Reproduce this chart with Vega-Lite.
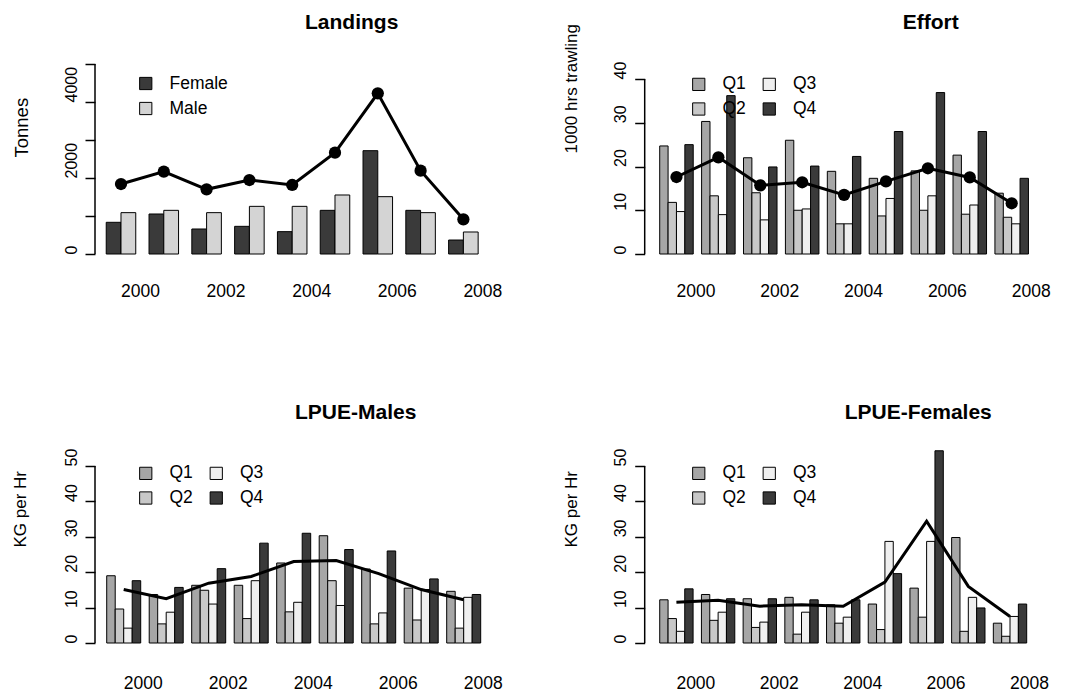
{
  "$schema": "https://vega.github.io/schema/vega-lite/v6.json",
  "background": "white",
  "padding": {"left": 11, "top": 11, "right": 0, "bottom": 0},
  "config": {
    "font": "Liberation Sans",
    "view": {"stroke": null},
    "axis": {"grid": false, "labelColor": "black", "titleColor": "black", "tickColor": "black", "labelOverlap": false, "labelSeparation": 0},
    "legend": {"labelColor": "black"},
    "title": {"color": "black"}
  },
  "datasets": {
    "land_bars": [
      {"year": 2000, "g": "Female", "v": 834}, {"year": 2000, "g": "Male", "v": 1088},
      {"year": 2001, "g": "Female", "v": 1053}, {"year": 2001, "g": "Male", "v": 1149},
      {"year": 2002, "g": "Female", "v": 658}, {"year": 2002, "g": "Male", "v": 1088},
      {"year": 2003, "g": "Female", "v": 728}, {"year": 2003, "g": "Male", "v": 1254},
      {"year": 2004, "g": "Female", "v": 588}, {"year": 2004, "g": "Male", "v": 1254},
      {"year": 2005, "g": "Female", "v": 1149}, {"year": 2005, "g": "Male", "v": 1553},
      {"year": 2006, "g": "Female", "v": 2719}, {"year": 2006, "g": "Male", "v": 1509},
      {"year": 2007, "g": "Female", "v": 1149}, {"year": 2007, "g": "Male", "v": 1088},
      {"year": 2008, "g": "Female", "v": 368}, {"year": 2008, "g": "Male", "v": 579}
    ],
    "land_total": [
      {"year": 2000, "v": 1842}, {"year": 2001, "v": 2167}, {"year": 2002, "v": 1702},
      {"year": 2003, "v": 1947}, {"year": 2004, "v": 1816}, {"year": 2005, "v": 2667},
      {"year": 2006, "v": 4228}, {"year": 2007, "v": 2193}, {"year": 2008, "v": 912}
    ],
    "eff_bars": [
      {"year": 2000, "g": "Q1", "v": 24.7}, {"year": 2000, "g": "Q2", "v": 11.8}, {"year": 2000, "g": "Q3", "v": 9.7}, {"year": 2000, "g": "Q4", "v": 25.0},
      {"year": 2001, "g": "Q1", "v": 30.3}, {"year": 2001, "g": "Q2", "v": 13.3}, {"year": 2001, "g": "Q3", "v": 9.0}, {"year": 2001, "g": "Q4", "v": 36.2},
      {"year": 2002, "g": "Q1", "v": 22.0}, {"year": 2002, "g": "Q2", "v": 14.0}, {"year": 2002, "g": "Q3", "v": 7.8}, {"year": 2002, "g": "Q4", "v": 19.9},
      {"year": 2003, "g": "Q1", "v": 26.0}, {"year": 2003, "g": "Q2", "v": 10.0}, {"year": 2003, "g": "Q3", "v": 10.3}, {"year": 2003, "g": "Q4", "v": 20.1},
      {"year": 2004, "g": "Q1", "v": 18.9}, {"year": 2004, "g": "Q2", "v": 6.9}, {"year": 2004, "g": "Q3", "v": 6.9}, {"year": 2004, "g": "Q4", "v": 22.3},
      {"year": 2005, "g": "Q1", "v": 17.3}, {"year": 2005, "g": "Q2", "v": 8.7}, {"year": 2005, "g": "Q3", "v": 12.7}, {"year": 2005, "g": "Q4", "v": 28.0},
      {"year": 2006, "g": "Q1", "v": 19.0}, {"year": 2006, "g": "Q2", "v": 10.0}, {"year": 2006, "g": "Q3", "v": 13.3}, {"year": 2006, "g": "Q4", "v": 36.9},
      {"year": 2007, "g": "Q1", "v": 22.6}, {"year": 2007, "g": "Q2", "v": 9.1}, {"year": 2007, "g": "Q3", "v": 11.2}, {"year": 2007, "g": "Q4", "v": 28.0},
      {"year": 2008, "g": "Q1", "v": 13.9}, {"year": 2008, "g": "Q2", "v": 8.4}, {"year": 2008, "g": "Q3", "v": 6.9}, {"year": 2008, "g": "Q4", "v": 17.3}
    ],
    "eff_total": [
      {"year": 2000, "v": 17.6}, {"year": 2001, "v": 22.1}, {"year": 2002, "v": 15.7},
      {"year": 2003, "v": 16.4}, {"year": 2004, "v": 13.5}, {"year": 2005, "v": 16.6},
      {"year": 2006, "v": 19.6}, {"year": 2007, "v": 17.5}, {"year": 2008, "v": 11.6}
    ],
    "lm_bars": [
      {"year": 2000, "g": "Q1", "v": 19.0}, {"year": 2000, "g": "Q2", "v": 9.6}, {"year": 2000, "g": "Q3", "v": 4.2}, {"year": 2000, "g": "Q4", "v": 17.6},
      {"year": 2001, "g": "Q1", "v": 13.7}, {"year": 2001, "g": "Q2", "v": 5.4}, {"year": 2001, "g": "Q3", "v": 8.7}, {"year": 2001, "g": "Q4", "v": 15.7},
      {"year": 2002, "g": "Q1", "v": 16.3}, {"year": 2002, "g": "Q2", "v": 14.9}, {"year": 2002, "g": "Q3", "v": 11.0}, {"year": 2002, "g": "Q4", "v": 21.0},
      {"year": 2003, "g": "Q1", "v": 16.3}, {"year": 2003, "g": "Q2", "v": 6.9}, {"year": 2003, "g": "Q3", "v": 17.6}, {"year": 2003, "g": "Q4", "v": 28.2},
      {"year": 2004, "g": "Q1", "v": 22.6}, {"year": 2004, "g": "Q2", "v": 8.8}, {"year": 2004, "g": "Q3", "v": 11.5}, {"year": 2004, "g": "Q4", "v": 31.0},
      {"year": 2005, "g": "Q1", "v": 30.3}, {"year": 2005, "g": "Q2", "v": 17.6}, {"year": 2005, "g": "Q3", "v": 10.6}, {"year": 2005, "g": "Q4", "v": 26.4},
      {"year": 2006, "g": "Q1", "v": 20.9}, {"year": 2006, "g": "Q2", "v": 5.4}, {"year": 2006, "g": "Q3", "v": 8.5}, {"year": 2006, "g": "Q4", "v": 26.0},
      {"year": 2007, "g": "Q1", "v": 15.5}, {"year": 2007, "g": "Q2", "v": 6.5}, {"year": 2007, "g": "Q3", "v": 15.1}, {"year": 2007, "g": "Q4", "v": 18.1},
      {"year": 2008, "g": "Q1", "v": 14.6}, {"year": 2008, "g": "Q2", "v": 4.2}, {"year": 2008, "g": "Q3", "v": 12.9}, {"year": 2008, "g": "Q4", "v": 13.7}
    ],
    "lm_total": [
      {"year": 2000, "v": 15.1}, {"year": 2001, "v": 12.5}, {"year": 2002, "v": 16.9},
      {"year": 2003, "v": 18.8}, {"year": 2004, "v": 23.0}, {"year": 2005, "v": 23.3},
      {"year": 2006, "v": 19.6}, {"year": 2007, "v": 15.1}, {"year": 2008, "v": 12.2}
    ],
    "lf_bars": [
      {"year": 2000, "g": "Q1", "v": 12.2}, {"year": 2000, "g": "Q2", "v": 6.9}, {"year": 2000, "g": "Q3", "v": 3.3}, {"year": 2000, "g": "Q4", "v": 15.3},
      {"year": 2001, "g": "Q1", "v": 13.7}, {"year": 2001, "g": "Q2", "v": 6.4}, {"year": 2001, "g": "Q3", "v": 8.7}, {"year": 2001, "g": "Q4", "v": 12.5},
      {"year": 2002, "g": "Q1", "v": 12.5}, {"year": 2002, "g": "Q2", "v": 4.4}, {"year": 2002, "g": "Q3", "v": 5.9}, {"year": 2002, "g": "Q4", "v": 12.5},
      {"year": 2003, "g": "Q1", "v": 12.9}, {"year": 2003, "g": "Q2", "v": 2.5}, {"year": 2003, "g": "Q3", "v": 8.7}, {"year": 2003, "g": "Q4", "v": 12.2},
      {"year": 2004, "g": "Q1", "v": 10.8}, {"year": 2004, "g": "Q2", "v": 5.6}, {"year": 2004, "g": "Q3", "v": 7.3}, {"year": 2004, "g": "Q4", "v": 12.2},
      {"year": 2005, "g": "Q1", "v": 11.0}, {"year": 2005, "g": "Q2", "v": 3.8}, {"year": 2005, "g": "Q3", "v": 28.7}, {"year": 2005, "g": "Q4", "v": 19.6},
      {"year": 2006, "g": "Q1", "v": 15.5}, {"year": 2006, "g": "Q2", "v": 7.3}, {"year": 2006, "g": "Q3", "v": 28.7}, {"year": 2006, "g": "Q4", "v": 54.3},
      {"year": 2007, "g": "Q1", "v": 29.8}, {"year": 2007, "g": "Q2", "v": 3.3}, {"year": 2007, "g": "Q3", "v": 12.9}, {"year": 2007, "g": "Q4", "v": 9.9},
      {"year": 2008, "g": "Q1", "v": 5.6}, {"year": 2008, "g": "Q2", "v": 1.9}, {"year": 2008, "g": "Q3", "v": 7.5}, {"year": 2008, "g": "Q4", "v": 11.0}
    ],
    "lf_total": [
      {"year": 2000, "v": 11.5}, {"year": 2001, "v": 12.1}, {"year": 2002, "v": 10.4},
      {"year": 2003, "v": 10.8}, {"year": 2004, "v": 10.4}, {"year": 2005, "v": 17.2},
      {"year": 2006, "v": 34.4}, {"year": 2007, "v": 16.0}, {"year": 2008, "v": 7.5}
    ],
    "one": [{"k": 1}]
  },
  "bounds": "flush",
  "columns": 2,
  "spacing": {"row": 199, "column": 149.7},
  "resolve": {"scale": {"color": "independent", "xOffset": "independent"}, "legend": {"color": "independent"}},
  "concat": [
    {
      "width": 400, "height": 190,
      "title": {"text": "Landings", "fontSize": 21, "fontWeight": "bold", "anchor": "start", "frame": "group", "dx": 210, "baseline": "alphabetic", "offset": 13},
      "resolve": {"scale": {"x": "independent"}},
      "layer": [
        {
          "layer": [
            {
              "data": {"name": "land_bars"},
              "mark": {"type": "bar", "stroke": "black", "strokeWidth": 1},
              "encoding": {
                "x": {"field": "year", "type": "ordinal", "scale": {"paddingInner": 0.31, "paddingOuter": 0.328, "align": 0.4, "round": false},
                  "axis": {"values": [2000, 2002, 2004, 2006, 2008], "domain": false, "ticks": false, "tickSize": 0, "labelAngle": 0, "labelAlign": "left", "labelBaseline": "alphabetic", "labelPadding": 42.7, "labelFontSize": 17.5, "labelOverlap": false, "labelBound": false, "title": null}},
                "xOffset": {"field": "g", "scale": {"paddingInner": 0, "paddingOuter": 0}},
                "y": {"field": "v", "type": "quantitative", "scale": {"domain": [0, 5000], "nice": false},
                  "axis": {"values": [0, 1000, 2000, 3000, 4000, 5000], "tickCount": 20, "labelExpr": "datum.value % 2000 === 0 ? format(datum.value, 'd') : ''", "domain": false, "tickSize": 10, "tickWidth": 1.5, "labelAngle": 270, "labelAlign": "left", "labelBaseline": "alphabetic", "labelPadding": 9, "labelFontSize": 16, "labelOverlap": false, "title": "Tonnes", "titleFontSize": 18.5, "titleFontWeight": "normal", "titleAngle": 270, "titleAlign": "left", "titleBaseline": "alphabetic", "titleX": -68, "titleY": 93}},
                "color": {"field": "g", "type": "nominal", "scale": {"domain": ["Female", "Male"], "range": ["#3a3a3a", "#d4d4d4"]},
                  "legend": {"orient": "none", "legendX": 42, "legendY": 10.75, "title": null, "symbolType": "square", "symbolSize": 150, "symbolStrokeColor": "black", "symbolStrokeWidth": 1, "labelFontSize": 17.5, "labelOffset": 15, "rowPadding": 6, "padding": 0}}
              }
            },
            {
              "data": {"name": "land_total"},
              "mark": {"type": "line", "color": "black", "strokeWidth": 3, "point": {"filled": true, "size": 150, "color": "black"}},
              "encoding": {
                "x": {"field": "year", "type": "ordinal"},
                "y": {"field": "v", "type": "quantitative"}
              }
            }
          ]
        },
        {
          "data": {"name": "one"},
          "mark": {"type": "rule", "color": "black", "strokeWidth": 1.5},
          "encoding": {
            "x": {"datum": 0, "type": "quantitative", "scale": {"domain": [0, 1]}, "axis": null},
            "y": {"datum": 0, "type": "quantitative",
              "axis": {"values": [0, 1000, 2000, 3000, 4000, 5000], "tickCount": 20, "labelExpr": "datum.value % 2000 === 0 ? format(datum.value, 'd') : ''", "domain": false, "tickSize": 10, "tickWidth": 1.5, "labelAngle": 270, "labelAlign": "left", "labelBaseline": "alphabetic", "labelPadding": 9, "labelFontSize": 16, "labelOverlap": false, "title": "Tonnes", "titleFontSize": 18.5, "titleFontWeight": "normal", "titleAngle": 270, "titleAlign": "left", "titleBaseline": "alphabetic", "titleX": -68, "titleY": 93}},
            "y2": {"datum": 5000}
          }
        }
      ]
    },
    {
      "width": 400, "height": 190,
      "title": {"text": "Effort", "fontSize": 21, "fontWeight": "bold", "anchor": "start", "frame": "group", "dx": 258, "baseline": "alphabetic", "offset": -26},
      "resolve": {"scale": {"x": "independent"}},
      "layer": [
        {
          "layer": [
            {
              "data": {"name": "eff_bars"},
              "mark": {"type": "bar", "stroke": "black", "strokeWidth": 1},
              "encoding": {
                "x": {"field": "year", "type": "ordinal", "scale": {"paddingInner": 0.2, "paddingOuter": 0.373, "align": 0.48, "round": false},
                  "axis": {"values": [2000, 2002, 2004, 2006, 2008], "domain": false, "ticks": false, "tickSize": 0, "labelAngle": 0, "labelAlign": "left", "labelBaseline": "alphabetic", "labelPadding": 42.7, "labelFontSize": 17.5, "labelOverlap": false, "labelBound": false, "title": null}},
                "xOffset": {"field": "g", "scale": {"paddingInner": 0, "paddingOuter": 0}},
                "y": {"field": "v", "type": "quantitative", "scale": {"domain": [0, 43.43], "nice": false},
                  "axis": {"values": [0, 10, 20, 30, 40], "tickCount": 20, "domain": false, "tickSize": 10, "tickWidth": 1.5, "labelAngle": 270, "labelAlign": "left", "labelBaseline": "alphabetic", "labelPadding": 9, "labelFontSize": 16, "labelOverlap": false, "title": "1000 hrs trawling", "titleFontSize": 17, "titleFontWeight": "normal", "titleAngle": 270, "titleAlign": "left", "titleBaseline": "alphabetic", "titleX": -68, "titleY": 89}},
                "color": {"field": "g", "type": "nominal", "scale": {"domain": ["Q1", "Q2", "Q3", "Q4"], "range": ["#a6a6a6", "#c8c8c8", "#efefef", "#3a3a3a"]},
                  "legend": {"orient": "none", "legendX": 45.3, "legendY": 11.25, "columns": 2, "columnPadding": 14.5, "title": null, "symbolType": "square", "symbolSize": 150, "symbolStrokeColor": "black", "symbolStrokeWidth": 1, "labelFontSize": 17.5, "labelOffset": 15, "rowPadding": 6, "padding": 0}}
              }
            },
            {
              "data": {"name": "eff_total"},
              "mark": {"type": "line", "color": "black", "strokeWidth": 3, "point": {"filled": true, "size": 150, "color": "black"}},
              "encoding": {
                "x": {"field": "year", "type": "ordinal"},
                "y": {"field": "v", "type": "quantitative"}
              }
            }
          ]
        },
        {
          "data": {"name": "one"},
          "mark": {"type": "rule", "color": "black", "strokeWidth": 1.5},
          "encoding": {
            "x": {"datum": 0, "type": "quantitative", "scale": {"domain": [0, 1]}, "axis": null},
            "y": {"datum": 0, "type": "quantitative",
              "axis": {"values": [0, 10, 20, 30, 40], "tickCount": 20, "domain": false, "tickSize": 10, "tickWidth": 1.5, "labelAngle": 270, "labelAlign": "left", "labelBaseline": "alphabetic", "labelPadding": 9, "labelFontSize": 16, "labelOverlap": false, "title": "1000 hrs trawling", "titleFontSize": 17, "titleFontWeight": "normal", "titleAngle": 270, "titleAlign": "left", "titleBaseline": "alphabetic", "titleX": -68, "titleY": 89}},
            "y2": {"datum": 40}
          }
        }
      ]
    },
    {
      "width": 400, "height": 190,
      "title": {"text": "LPUE-Males", "fontSize": 21, "fontWeight": "bold", "anchor": "start", "frame": "group", "dx": 200, "baseline": "alphabetic", "offset": 8},
      "resolve": {"scale": {"x": "independent"}},
      "layer": [
        {
          "layer": [
            {
              "data": {"name": "lm_bars"},
              "mark": {"type": "bar", "stroke": "black", "strokeWidth": 1},
              "encoding": {
                "x": {"field": "year", "type": "ordinal", "scale": {"paddingInner": 0.2, "paddingOuter": 0.306, "align": 0.45, "round": false},
                  "axis": {"values": [2000, 2002, 2004, 2006, 2008], "domain": false, "ticks": false, "tickSize": 0, "labelAngle": 0, "labelAlign": "left", "labelBaseline": "alphabetic", "labelPadding": 45, "labelFontSize": 17.5, "labelOverlap": false, "labelBound": false, "title": null}},
                "xOffset": {"field": "g", "scale": {"paddingInner": 0, "paddingOuter": 0}},
                "y": {"field": "v", "type": "quantitative", "scale": {"domain": [0, 53.67], "nice": false},
                  "axis": {"values": [0, 10, 20, 30, 40, 50], "tickCount": 20, "domain": false, "tickSize": 10, "tickWidth": 1.5, "labelAngle": 270, "labelAlign": "left", "labelBaseline": "alphabetic", "labelPadding": 9, "labelFontSize": 16, "labelOverlap": false, "title": "KG per Hr", "titleFontSize": 17, "titleFontWeight": "normal", "titleAngle": 270, "titleAlign": "left", "titleBaseline": "alphabetic", "titleX": -70, "titleY": 94}},
                "color": {"field": "g", "type": "nominal", "scale": {"domain": ["Q1", "Q2", "Q3", "Q4"], "range": ["#a6a6a6", "#c8c8c8", "#efefef", "#3a3a3a"]},
                  "legend": {"orient": "none", "legendX": 42, "legendY": 11.25, "columns": 2, "columnPadding": 14.5, "title": null, "symbolType": "square", "symbolSize": 150, "symbolStrokeColor": "black", "symbolStrokeWidth": 1, "labelFontSize": 17.5, "labelOffset": 15, "rowPadding": 6, "padding": 0}}
              }
            },
            {
              "data": {"name": "lm_total"},
              "mark": {"type": "line", "color": "black", "strokeWidth": 3},
              "encoding": {
                "x": {"field": "year", "type": "ordinal"},
                "y": {"field": "v", "type": "quantitative"}
              }
            }
          ]
        },
        {
          "data": {"name": "one"},
          "mark": {"type": "rule", "color": "black", "strokeWidth": 1.5},
          "encoding": {
            "x": {"datum": 0, "type": "quantitative", "scale": {"domain": [0, 1]}, "axis": null},
            "y": {"datum": 0, "type": "quantitative",
              "axis": {"values": [0, 10, 20, 30, 40, 50], "tickCount": 20, "domain": false, "tickSize": 10, "tickWidth": 1.5, "labelAngle": 270, "labelAlign": "left", "labelBaseline": "alphabetic", "labelPadding": 9, "labelFontSize": 16, "labelOverlap": false, "title": "KG per Hr", "titleFontSize": 17, "titleFontWeight": "normal", "titleAngle": 270, "titleAlign": "left", "titleBaseline": "alphabetic", "titleX": -70, "titleY": 94}},
            "y2": {"datum": 50}
          }
        }
      ]
    },
    {
      "width": 400, "height": 190,
      "title": {"text": "LPUE-Females", "fontSize": 21, "fontWeight": "bold", "anchor": "start", "frame": "group", "dx": 200, "baseline": "alphabetic", "offset": 8},
      "resolve": {"scale": {"x": "independent"}},
      "layer": [
        {
          "layer": [
            {
              "data": {"name": "lf_bars"},
              "mark": {"type": "bar", "stroke": "black", "strokeWidth": 1},
              "encoding": {
                "x": {"field": "year", "type": "ordinal", "scale": {"paddingInner": 0.2, "paddingOuter": 0.396, "align": 0.455, "round": false},
                  "axis": {"values": [2000, 2002, 2004, 2006, 2008], "domain": false, "ticks": false, "tickSize": 0, "labelAngle": 0, "labelAlign": "left", "labelBaseline": "alphabetic", "labelPadding": 45, "labelFontSize": 17.5, "labelOverlap": false, "labelBound": false, "title": null}},
                "xOffset": {"field": "g", "scale": {"paddingInner": 0, "paddingOuter": 0}},
                "y": {"field": "v", "type": "quantitative", "scale": {"domain": [0, 53.67], "nice": false},
                  "axis": {"values": [0, 10, 20, 30, 40, 50], "tickCount": 20, "domain": false, "tickSize": 10, "tickWidth": 1.5, "labelAngle": 270, "labelAlign": "left", "labelBaseline": "alphabetic", "labelPadding": 9, "labelFontSize": 16, "labelOverlap": false, "title": "KG per Hr", "titleFontSize": 17, "titleFontWeight": "normal", "titleAngle": 270, "titleAlign": "left", "titleBaseline": "alphabetic", "titleX": -68, "titleY": 94}},
                "color": {"field": "g", "type": "nominal", "scale": {"domain": ["Q1", "Q2", "Q3", "Q4"], "range": ["#a6a6a6", "#c8c8c8", "#efefef", "#3a3a3a"]},
                  "legend": {"orient": "none", "legendX": 45.3, "legendY": 11.25, "columns": 2, "columnPadding": 14.5, "title": null, "symbolType": "square", "symbolSize": 150, "symbolStrokeColor": "black", "symbolStrokeWidth": 1, "labelFontSize": 17.5, "labelOffset": 15, "rowPadding": 6, "padding": 0}}
              }
            },
            {
              "data": {"name": "lf_total"},
              "mark": {"type": "line", "color": "black", "strokeWidth": 3},
              "encoding": {
                "x": {"field": "year", "type": "ordinal"},
                "y": {"field": "v", "type": "quantitative"}
              }
            }
          ]
        },
        {
          "data": {"name": "one"},
          "mark": {"type": "rule", "color": "black", "strokeWidth": 1.5},
          "encoding": {
            "x": {"datum": 0, "type": "quantitative", "scale": {"domain": [0, 1]}, "axis": null},
            "y": {"datum": 0, "type": "quantitative",
              "axis": {"values": [0, 10, 20, 30, 40, 50], "tickCount": 20, "domain": false, "tickSize": 10, "tickWidth": 1.5, "labelAngle": 270, "labelAlign": "left", "labelBaseline": "alphabetic", "labelPadding": 9, "labelFontSize": 16, "labelOverlap": false, "title": "KG per Hr", "titleFontSize": 17, "titleFontWeight": "normal", "titleAngle": 270, "titleAlign": "left", "titleBaseline": "alphabetic", "titleX": -68, "titleY": 94}},
            "y2": {"datum": 50}
          }
        }
      ]
    }
  ]
}
